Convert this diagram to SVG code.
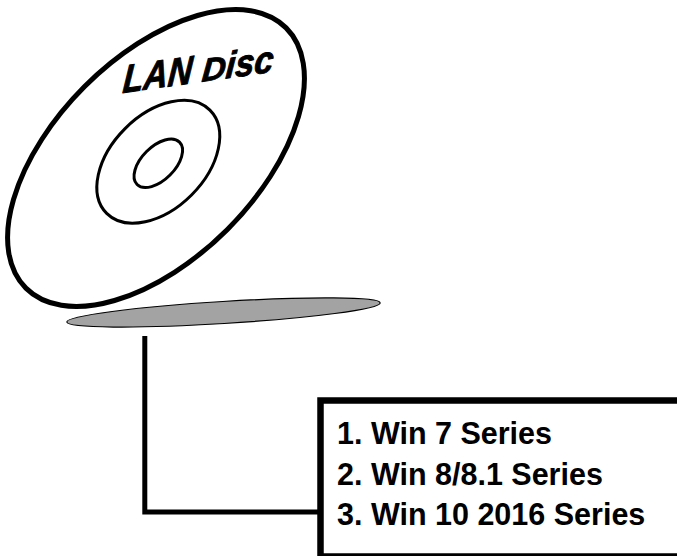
<svg xmlns="http://www.w3.org/2000/svg" width="677" height="556" viewBox="0 0 677 556">
  <style>
    .ring { fill: none; stroke: #000; }
    .label { font-family: "Liberation Sans", Arial, sans-serif; font-weight: bold; fill: #000; }
    .disc-title { font-family: "Liberation Sans", Arial, sans-serif; font-weight: bold; font-style: italic; fill: #000; stroke: #000; stroke-width: 0.9; stroke-linejoin: round; }
    .wire { fill: none; stroke: #000; stroke-width: 5; stroke-linecap: butt; stroke-linejoin: miter; }
  </style>
  <rect width="677" height="556" fill="#fff"/>

  <!-- shadow under the disc -->
  <g id="shadow">
    <ellipse cx="223.5" cy="312.5" rx="157" ry="11" transform="rotate(-3.5 223.5 312.5)" fill="#a3a3a3" stroke="#000" stroke-width="1.2"/>
  </g>

  <!-- tilted CD -->
  <g id="disc">
    <ellipse class="ring" cx="156" cy="158" rx="184" ry="101" transform="rotate(-45 156 158)" stroke-width="5"/>
    <ellipse class="ring" cx="158.3" cy="161.8" rx="73" ry="47" transform="rotate(-45 158.3 161.8)" stroke-width="3"/>
    <ellipse class="ring" cx="158.3" cy="163.3" rx="30" ry="16.6" transform="rotate(-45 158.3 163.3)" stroke-width="3"/>
    <g transform="translate(122 93) rotate(-8) skewX(-13)">
      <text class="disc-title" x="0" y="0" font-size="39" textLength="70" lengthAdjust="spacingAndGlyphs">LAN</text>
      <text class="disc-title" x="80" y="0" font-size="32" textLength="24" lengthAdjust="spacingAndGlyphs">D</text>
      <text class="disc-title" x="104" y="0" font-size="37" textLength="48" lengthAdjust="spacingAndGlyphs">isc</text>
    </g>
  </g>

  <!-- connector from disc to list -->
  <g id="connectors">
    <polyline class="wire" points="144.8,336 144.8,512 321,512"/>
  </g>

  <!-- driver list -->
  <g id="driver-list">
    <rect x="320.5" y="400.5" width="370" height="156" fill="#fff" stroke="#000" stroke-width="6.5"/>
    <text class="label" x="337" y="444.3" font-size="30.5">1. Win 7 Series</text>
    <text class="label" x="337" y="484.8" font-size="30.5">2. Win 8/8.1 Series</text>
    <text class="label" x="337" y="525.3" font-size="30.5">3. Win 10 2016 Series</text>
  </g>
</svg>
